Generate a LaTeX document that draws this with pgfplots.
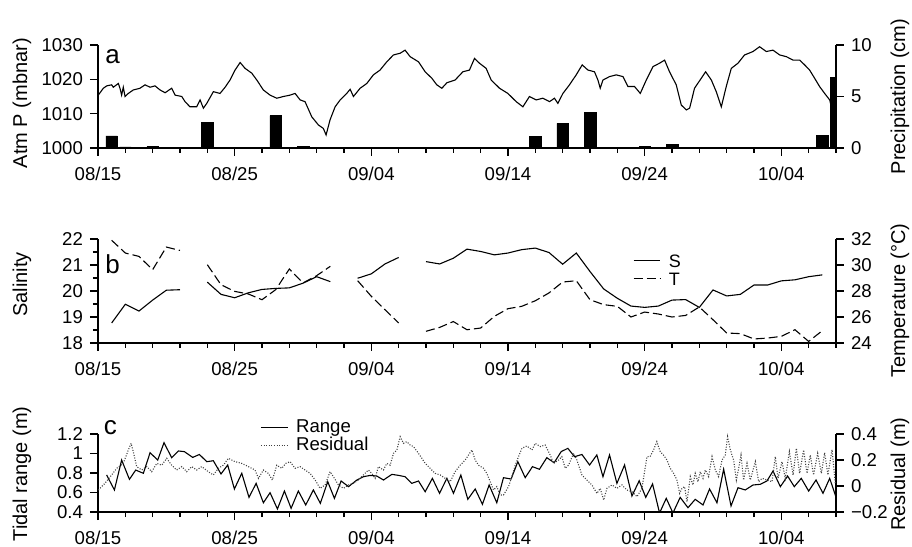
\documentclass[border=0pt]{standalone}
\usepackage{fontspec}
\setmainfont{Liberation Sans}
\usepackage{pgfplots}
\pgfplotsset{compat=1.18}

\pgfplotsset{
  panel/.style={
    scale only axis, width=369pt, xmin=0, xmax=54,
    xtick={0,10,20,30,40,50},
    xticklabels={08/15,08/25,09/04,09/14,09/24,10/04},
    minor xtick={2,4,...,54},
    tick align=outside,
    major tick length=4pt, minor tick length=2.5pt,
    axis line style={line width=0.6pt},
    tick style={black, line width=0.6pt},
    tick label style={font=\fontsize{9.3}{10}\selectfont},
    xticklabel style={yshift=-2pt},
    label style={font=\fontsize{11}{12}\selectfont},
    /pgf/number format/assume math mode=true,
    /pgf/number format/1000 sep={},
    unbounded coords=jump,
    legend cell align=left,
    legend image code/.code={\draw[##1] (0pt,0pt) -- (13.3pt,0pt);},
  },
  lefty/.style={panel, axis x line*=bottom, axis y line*=left,
    every axis y label/.style={at={(axis description cs:-0.103,#1)}, rotate=90, anchor=center}},
  righty/.style={panel, axis x line=none, axis y line*=right,
    every axis y label/.style={at={(axis description cs:1.0867,#1)}, rotate=90, anchor=center}},
  leg/.style={draw=none, fill=none, inner sep=0pt,
    /tikz/every odd column/.append style={column sep=4pt}},
  thin/.style={black, line width=0.55pt},
}

\begin{document}
\begin{tikzpicture}
\useasboundingbox (0,0) rectangle (456pt,273.5pt);

% ---- panel a: atmospheric pressure and precipitation
\begin{axis}[lefty=0.434, at={(49pt,199.5pt)}, height=51.5pt,
    ymin=1000, ymax=1030, ytick={1000,1010,1020,1030},
    ylabel={Atm P (mbnar)}]
\addplot[thin] table {
0.02 1015.4
0.39 1017.4
0.64 1018.1
1.00 1018.4
1.12 1017.7
1.49 1018.8
1.61 1017.4
1.73 1015.4
1.85 1017.7
1.98 1015.0
2.22 1015.9
2.58 1016.9
3.07 1017.4
3.44 1018.4
3.81 1017.7
4.17 1018.1
4.54 1016.9
4.91 1016.1
5.39 1017.4
5.64 1015.4
6.13 1015.0
6.37 1013.5
6.73 1012.0
7.22 1012.0
7.47 1014.0
7.71 1011.6
7.96 1013.0
8.44 1016.4
8.93 1015.9
9.30 1017.7
9.66 1019.8
10.03 1022.7
10.40 1024.9
10.76 1023.2
11.25 1021.8
11.62 1019.8
12.10 1016.9
12.59 1015.4
13.08 1014.5
13.57 1015.0
14.06 1015.4
14.42 1015.9
14.79 1014.0
15.15 1013.5
15.64 1009.1
16.13 1006.7
16.49 1005.7
16.69 1003.8
16.98 1008.2
17.35 1012.0
17.72 1014.0
18.20 1015.9
18.45 1017.1
18.69 1015.0
19.18 1017.4
19.67 1018.8
20.15 1021.3
20.64 1022.7
21.13 1025.1
21.62 1027.1
22.11 1027.6
22.47 1028.5
22.84 1026.6
23.45 1025.1
23.94 1022.2
24.43 1020.3
24.79 1018.4
25.16 1017.4
25.53 1019.0
26.13 1019.8
26.70 1022.2
27.18 1022.7
27.55 1026.1
27.91 1024.7
28.40 1023.2
28.77 1019.8
29.38 1017.4
29.99 1015.9
30.60 1013.5
31.09 1012.0
31.57 1015.0
32.06 1014.0
32.55 1014.5
33.04 1013.5
33.40 1014.5
33.65 1013.0
34.02 1015.9
34.50 1018.4
34.99 1021.3
35.43 1024.2
35.85 1022.7
36.33 1022.2
36.58 1019.8
36.75 1017.4
36.95 1019.8
37.43 1020.8
37.92 1021.3
38.41 1020.8
38.78 1017.9
39.26 1017.9
39.68 1015.9
40.12 1019.8
40.61 1023.7
41.09 1024.7
41.46 1025.6
41.82 1022.2
42.31 1018.4
42.68 1012.5
43.05 1011.1
43.29 1011.6
43.65 1017.4
44.14 1020.3
44.46 1022.2
44.88 1019.8
45.24 1016.4
45.61 1012.0
45.97 1017.9
46.34 1023.2
46.83 1024.7
47.31 1027.1
47.93 1028.1
48.41 1029.5
48.90 1028.1
49.39 1028.5
49.88 1027.1
50.37 1026.6
50.86 1025.6
51.34 1025.6
51.71 1024.2
52.07 1022.7
52.44 1020.3
52.80 1017.9
53.17 1015.9
53.54 1014.0
53.66 1012.0
};
\end{axis}
\begin{axis}[righty=0.5, at={(49pt,199.5pt)}, height=51.5pt,
    ymin=0, ymax=10, ytick={0,5,10}, ybar, bar width=0.85,
    ylabel={Precipitation (cm)}]
\addplot[fill=black, draw=black, line width=0.3pt] table {
1 1.17
2 0.10
4 0.13
8 2.49
13 3.14
15 0.12
32 1.10
34 2.40
36 3.43
37 0.05
39 0.08
40 0.12
42 0.36
51 0.05
52 0.05
53 1.26
54 6.86
};
\end{axis}

% ---- panel b: salinity and temperature
\begin{axis}[lefty=0.565, at={(49pt,102pt)}, height=52pt,
    ymin=18, ymax=22, ytick={18,19,20,21,22}, minor y tick num=1,
    ylabel={Salinity}]
\addplot[thin] table {
1 18.77
2 19.49
3 19.23
4 19.65
5 20.03
6 20.05
7 nan
8 20.34
9 19.87
10 19.74
11 19.93
12 20.06
13 20.10
14 20.12
15 20.30
16 20.55
17 20.36
18 nan
19 20.49
20 20.66
21 21.04
22 21.29
23 nan
24 21.13
25 21.04
26 21.26
27 21.61
28 21.52
29 21.39
30 21.46
31 21.59
32 21.65
33 21.48
34 21.03
35 21.46
36 20.75
37 20.08
38 19.72
39 19.42
40 19.37
41 19.42
42 19.65
43 19.67
44 19.37
45 20.04
46 19.81
47 19.87
48 20.23
49 20.23
50 20.39
51 20.43
52 20.55
53 20.62
};
\end{axis}
\begin{axis}[righty=0.41, at={(49pt,102pt)}, height=52pt,
    ymin=24, ymax=32, ytick={24,26,28,30,32},
    ylabel={Temperature (°C)},
    legend style={leg, font=\fontsize{9}{10}\selectfont,
      at={(axis description cs:0.7245,0.865)}, anchor=north west,
      row sep=2.5pt, nodes={inner sep=0pt, text height=6.8pt, text depth=0pt}}]
\addlegendimage{thin}
\addlegendentry{S}
\addplot[thin, dash pattern=on 4.5pt off 2pt] table {
1 31.90
2 30.92
3 30.66
4 29.64
5 31.38
6 31.12
7 nan
8 30.02
9 28.48
10 27.97
11 27.77
12 27.33
13 28.10
14 29.69
15 28.62
16 29.18
17 29.90
18 nan
19 28.79
20 27.59
21 26.56
22 25.54
23 nan
24 24.90
25 25.20
26 25.65
27 25.02
28 25.15
29 26.05
30 26.64
31 26.82
32 27.25
33 27.85
34 28.69
35 28.79
36 27.33
37 26.95
38 26.82
39 26.00
40 26.38
41 26.23
42 26.00
43 26.12
44 26.77
45 25.79
46 24.77
47 24.72
48 24.31
49 24.38
50 24.51
51 25.02
52 24.12
53 24.95
};
\addlegendentry{T}
\end{axis}

% ---- panel c: tidal range and residual
\begin{axis}[lefty=0.487, at={(49pt,17.5pt)}, height=39pt,
    ymin=0.4, ymax=1.2, ytick={0.4,0.6,0.8,1,1.2},
    ylabel={Tidal range (m)}]
\addplot[thin] table {
0.63 0.780
1.20 0.626
1.73 0.933
2.30 0.735
2.76 0.830
3.32 0.797
3.81 1.008
4.37 0.933
4.83 1.111
5.39 0.957
5.88 1.026
6.32 1.019
6.93 0.960
7.42 0.990
7.96 0.916
8.44 0.926
9.00 0.790
9.49 0.882
9.98 0.636
10.52 0.797
11.05 0.550
11.57 0.694
12.10 0.495
12.59 0.598
13.13 0.431
13.64 0.615
14.13 0.438
14.66 0.615
15.20 0.472
15.76 0.626
16.27 0.489
16.81 0.711
17.30 0.540
17.79 0.718
18.33 0.660
18.94 0.728
19.42 0.762
19.91 0.775
20.40 0.769
20.89 0.728
21.50 0.786
21.98 0.776
22.47 0.762
22.96 0.694
23.45 0.718
23.94 0.608
24.47 0.745
24.99 0.592
25.53 0.745
26.01 0.592
26.55 0.779
27.06 0.530
27.60 0.636
28.13 0.479
28.62 0.677
29.18 0.495
29.67 0.752
30.23 0.738
30.72 0.916
31.26 0.752
31.79 0.865
32.30 0.838
32.84 0.957
33.38 0.906
33.89 1.019
34.38 1.053
34.87 0.967
35.41 0.990
35.97 0.882
36.50 0.985
36.95 0.762
37.43 0.985
37.97 0.694
38.53 0.882
39.07 0.564
39.60 0.720
40.08 0.550
40.58 0.687
41.09 0.390
41.58 0.540
42.07 0.390
42.60 0.550
43.17 0.444
43.70 0.530
44.27 0.472
44.75 0.636
45.29 0.495
45.78 0.838
46.32 0.462
46.83 0.649
47.36 0.626
47.93 0.677
48.46 0.684
48.95 0.718
49.39 0.820
49.93 0.660
50.46 0.769
50.95 0.660
51.46 0.745
52.00 0.615
52.54 0.728
53.05 0.592
53.54 0.745
54.07 0.523
};
\end{axis}
\begin{axis}[righty=0.487, at={(49pt,17.5pt)}, height=39pt,
    ymin=-0.2, ymax=0.4, ytick={-0.2,0,0.2,0.4},
    yticklabels={−0.2,0,0.2,0.4},
    ylabel={Residual (m)},
    legend style={leg, font=\fontsize{9.3}{10}\selectfont,
      at={(axis description cs:0.2195,1.2)}, anchor=north west,
      row sep=0pt, nodes={inner sep=0pt, text height=7pt, text depth=2pt}}]
\addlegendimage{thin}
\addlegendentry{Range}
\addplot[black!75, line width=0.55pt, dash pattern=on 0.5pt off 0.8pt] table {
0.02 -0.031
0.51 0.021
1.00 0.085
1.37 0.136
1.85 0.174
2.22 0.277
2.42 0.328
2.58 0.264
2.83 0.149
3.20 0.123
3.57 0.149
3.93 0.110
4.30 0.174
4.66 0.160
5.03 0.213
5.39 0.160
5.76 0.123
6.13 0.149
6.49 0.110
6.86 0.149
7.22 0.123
7.59 0.149
8.07 0.110
8.44 0.085
8.81 0.136
9.17 0.160
9.54 0.213
10.03 0.187
10.52 0.174
11.00 0.149
11.49 0.123
11.74 0.059
12.10 0.123
12.47 0.097
12.76 0.046
13.08 0.160
13.45 0.136
13.74 0.174
14.06 0.187
14.42 0.136
14.79 0.149
15.15 0.123
15.52 0.097
15.89 0.046
16.25 -0.018
16.62 0.008
16.98 0.110
17.30 0.059
17.59 0.008
17.96 -0.018
18.33 0.008
18.69 0.021
19.06 0.046
19.42 0.085
19.79 0.123
20.03 0.097
20.28 0.059
20.52 0.149
20.89 0.123
21.13 0.174
21.38 0.160
21.62 0.251
21.87 0.277
22.11 0.379
22.35 0.328
22.60 0.341
22.84 0.315
23.08 0.303
23.45 0.251
23.70 0.213
23.94 0.174
24.30 0.136
24.67 0.097
25.04 0.085
25.40 0.059
25.77 0.033
26.13 0.110
26.50 0.160
26.87 0.200
27.11 0.238
27.36 0.277
27.60 0.200
27.84 0.160
28.21 0.136
28.45 0.097
28.70 0.033
28.94 -0.031
29.18 -0.005
29.43 -0.069
29.67 -0.069
30.04 -0.005
30.28 0.072
30.53 0.160
30.77 0.226
31.02 0.290
31.38 0.308
31.75 0.277
31.99 0.328
32.36 0.303
32.72 0.315
33.09 0.238
33.33 0.174
33.70 0.200
33.94 0.226
34.19 0.136
34.43 0.160
34.80 0.251
35.04 0.200
35.41 0.085
35.77 0.046
36.14 0.008
36.51 -0.057
36.75 -0.018
37.00 -0.108
37.24 -0.018
37.61 0.008
37.97 -0.018
38.34 0.008
38.70 -0.031
39.07 -0.044
39.44 -0.082
39.80 -0.018
40.17 0.226
40.40 0.226
40.65 0.277
40.89 0.341
41.14 0.264
41.38 0.238
41.63 0.200
41.87 0.136
42.12 0.097
42.36 0.046
42.56 -0.056
42.73 -0.018
42.92 -0.005
43.10 -0.121
43.34 0.072
43.53 0.008
43.70 0.097
43.90 0.033
44.07 0.110
44.27 0.059
44.44 0.123
44.68 0.072
44.93 0.226
45.17 0.123
45.41 0.072
45.66 0.200
45.90 0.238
46.07 0.379
46.27 0.277
46.51 0.200
46.71 0.046
46.88 0.136
47.05 0.238
47.24 0.046
47.49 0.174
47.73 0.046
48.10 0.187
48.34 0.033
48.59 0.059
48.95 0.046
49.32 0.033
49.56 0.226
49.76 0.059
50.05 0.187
50.29 0.059
50.59 0.264
50.86 0.085
51.10 0.290
51.34 0.097
51.63 0.277
51.88 0.097
52.12 0.238
52.36 0.085
52.66 0.251
52.93 0.097
53.17 0.256
53.41 0.085
53.71 0.280
53.95 0.021
};
\addlegendentry{Residual}
\end{axis}

\node[anchor=base west, inner sep=0pt, font=\fontsize{13}{13}\selectfont] at (52.5pt,241.5pt) {a};
\node[anchor=base west, inner sep=0pt, font=\fontsize{13}{13}\selectfont] at (52.5pt,136.8pt) {b};
\node[anchor=base west, inner sep=0pt, font=\fontsize{13}{13}\selectfont] at (51.7pt,56pt) {c};
\end{tikzpicture}
\end{document}
